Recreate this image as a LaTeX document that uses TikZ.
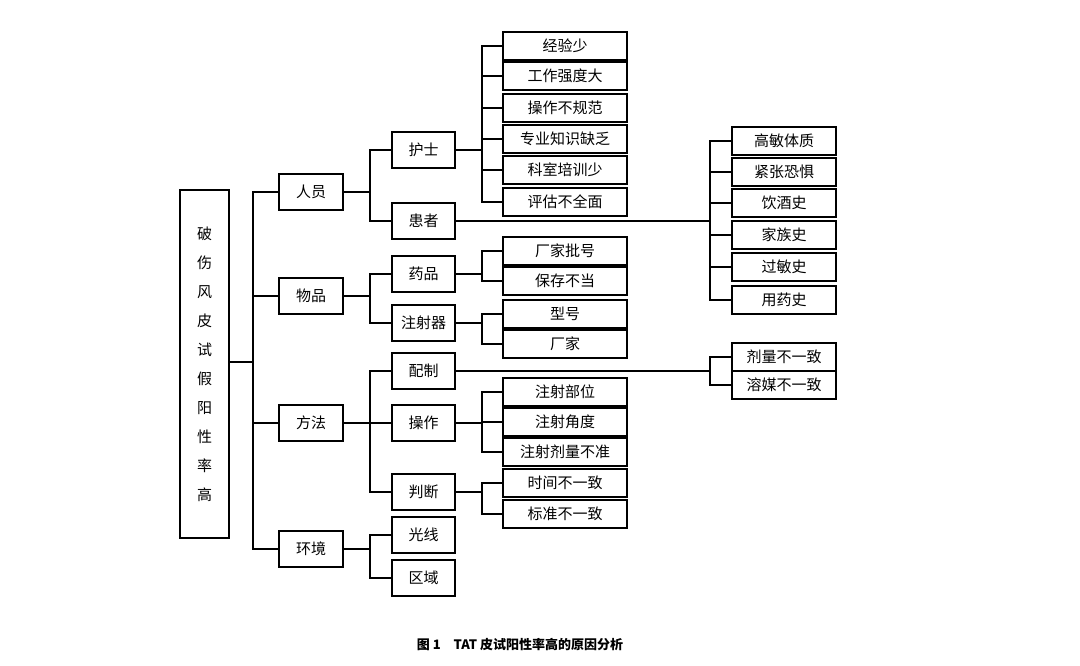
\documentclass[tikz,border=0pt]{standalone}
\usepackage{fontspec}
\setmainfont{Liberation Serif}
\newfontfamily\cjk{Noto Sans CJK SC}
\begin{document}
\begin{tikzpicture}[x=1pt,y=-1pt,
  b/.style={draw,line width=1.1pt,inner sep=0pt,font=\cjk\fontsize{15}{15}\selectfont},
  l1/.style={b,minimum width=64pt,minimum height=36pt},
  l2/.style={b,minimum width=63pt,minimum height=36pt},
  l3/.style={b,minimum width=124pt,minimum height=28pt},
  r3/.style={b,minimum width=104pt,minimum height=28pt},
  ln/.style={line width=1.1pt}]
\useasboundingbox (0,0) rectangle (1080,666);
\node[b,minimum width=49pt,minimum height=348pt,align=center,font=\cjk\fontsize{15}{29}\selectfont] (root) at (204.5,364) {破\\伤\\风\\皮\\试\\假\\阳\\性\\率\\高};
% level 1
\node[l1] (ry) at (311,192) {人员};
\node[l1] (wp) at (311,296) {物品};
\node[l1] (ff) at (311,423) {方法};
\node[l1] (hj) at (311,549) {环境};
% level 2
\node[l2] (hs) at (423.5,150) {护士};
\node[l2] (hz) at (423.5,221) {患者};
\node[l2] (yp) at (423.5,274) {药品};
\node[l2] (zsq) at (423.5,323) {注射器};
\node[l2] (pz) at (423.5,371) {配制};
\node[l2] (cz) at (423.5,423) {操作};
\node[l2] (pd) at (423.5,492) {判断};
\node[l2] (gx) at (423.5,535) {光线};
\node[l2] (qy) at (423.5,578) {区域};
% level 3
\node[l3] (a1) at (565,46) {经验少};
\node[l3] (a2) at (565,76) {工作强度大};
\node[l3] (a3) at (565,108) {操作不规范};
\node[l3] (a4) at (565,139) {专业知识缺乏};
\node[l3] (a5) at (565,170) {科室培训少};
\node[l3] (a6) at (565,202) {评估不全面};
\node[l3] (b1) at (565,251) {厂家批号};
\node[l3] (b2) at (565,281) {保存不当};
\node[l3] (c1) at (565,314) {型号};
\node[l3] (c2) at (565,344) {厂家};
\node[l3] (d1) at (565,392) {注射部位};
\node[l3] (d2) at (565,422) {注射角度};
\node[l3] (d3) at (565,452) {注射剂量不准};
\node[l3] (e1) at (565,483) {时间不一致};
\node[l3] (e2) at (565,514) {标准不一致};
% right
\node[r3] (p1) at (784,141) {高敏体质};
\node[r3] (p2) at (784,172) {紧张恐惧};
\node[r3] (p3) at (784,203) {饮酒史};
\node[r3] (p4) at (784,235) {家族史};
\node[r3] (p5) at (784,267) {过敏史};
\node[r3] (p6) at (784,300) {用药史};
\node[r3] (q1) at (784,357) {剂量不一致};
\node[r3] (q2) at (784,385) {溶媒不一致};
% connectors
\draw[ln] (root.east |- 0,362) -- (253,362);
\draw[ln] (ry.west) -| (253,362) |- (hj.west);
\draw[ln] (wp.west) -- (253,296);
\draw[ln] (ff.west) -- (253,423);
\draw[ln] (ry.east) -- (370,192);
\draw[ln] (hs.west) -| (370,192) |- (hz.west);
\draw[ln] (wp.east) -- (370,296);
\draw[ln] (yp.west) -| (370,296) |- (zsq.west);
\draw[ln] (ff.east) -- (370,423);
\draw[ln] (pz.west) -| (370,423) |- (pd.west);
\draw[ln] (cz.west) -- (370,423);
\draw[ln] (hj.east) -- (370,549);
\draw[ln] (gx.west) -| (370,549) |- (qy.west);
\draw[ln] (hs.east) -- (482,150);
\draw[ln] (a1.west) -| (482,150) |- (a6.west);
\foreach \n in {a2,a3,a4,a5} \draw[ln] (\n.west) -- (482,0 |- \n.west);
\draw[ln] (yp.east) -- (482,274);
\draw[ln] (b1.west) -| (482,274) |- (b2.west);
\draw[ln] (zsq.east) -- (482,323);
\draw[ln] (c1.west) -| (482,323) |- (c2.west);
\draw[ln] (cz.east) -- (482,423);
\draw[ln] (d1.west) -| (482,423) |- (d3.west);
\draw[ln] (d2.west) -- (482,422);
\draw[ln] (pd.east) -- (482,492);
\draw[ln] (e1.west) -| (482,492) |- (e2.west);
\draw[ln] (hz.east) -- (710,221);
\draw[ln] (p1.west) -| (710,221) |- (p6.west);
\foreach \n in {p2,p3,p4,p5} \draw[ln] (\n.west) -- (710,0 |- \n.west);
\draw[ln] (pz.east) -- (710,371);
\draw[ln] (q1.west) -| (710,371) |- (q2.west);
\node[font=\cjk\bfseries\fontsize{13}{13}\selectfont] (cap) at (520,645) {图 1\quad TAT 皮试阳性率高的原因分析};
\end{tikzpicture}
\end{document}
